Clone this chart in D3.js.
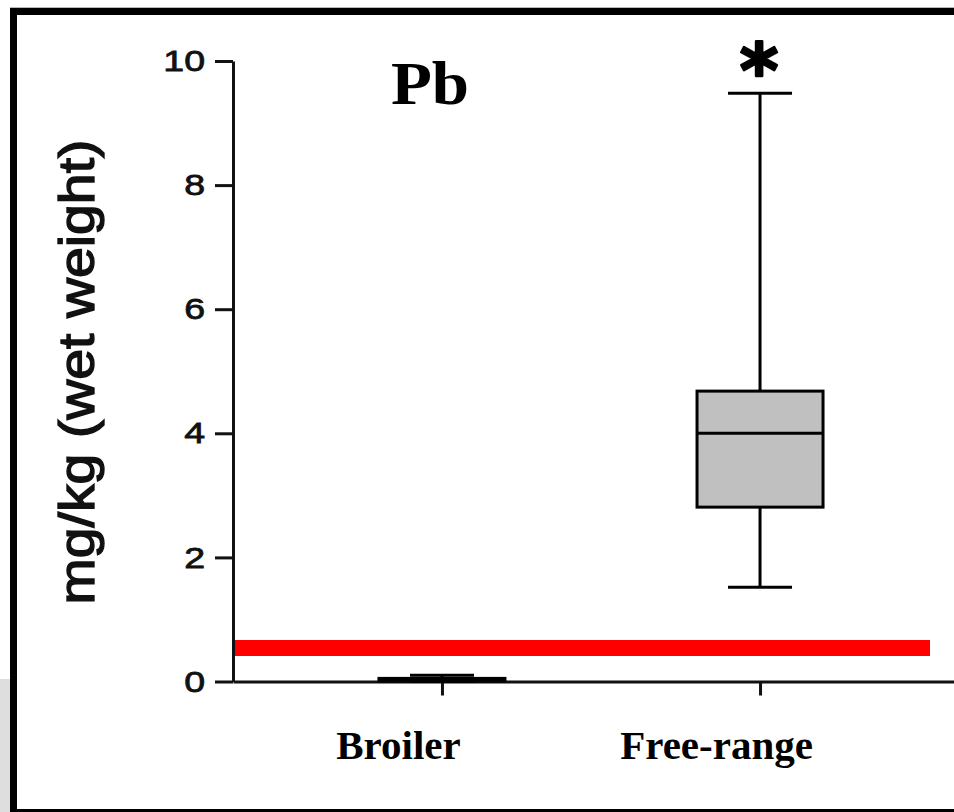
<!DOCTYPE html>
<html>
<head>
<meta charset="utf-8">
<script src="https://cdn.jsdelivr.net/npm/d3@7"></script>
<style>
  html, body { margin: 0; padding: 0; background: #fff; }
  svg { display: block; }
</style>
</head>
<body>
<div id="plot"></div>
<script>
// chart values
var groups = ["Broiler", "Free-range"];
var mins = [0.00, 1.52];
var q1s = [0.01, 2.81];
var medians = [0.03, 4.00];
var q3s = [0.05, 4.68];
var maxs = [0.10, 9.48];
var sigMarks = ["", "*"];
var yTicks = [0, 2, 4, 6, 8, 10];
var limitValue = 0.54;
var title = "Pb";
var yLabel = "mg/kg (wet weight)";

var W = 954, H = 812;

var svg = d3.select('#plot')
    .append('svg')
    .attr('width', W)
    .attr('height', H);

// frame around the picture
svg.append('rect').attr('x', 0).attr('y', 679).attr('width', 10).attr('height', H - 679).style('fill', '#dedede');
svg.append('line').attr('x1', 10).attr('x2', W).attr('y1', 7.5).attr('y2', 7.5).style('stroke', '#b8b8b8').style('stroke-width', 1);
svg.append('rect').attr('x', 10).attr('y', 8).attr('width', W - 10).attr('height', 7).style('fill', '#000');
svg.append('rect').attr('x', 10).attr('y', 8).attr('width', 7).attr('height', H - 8).style('fill', '#000');
svg.append('rect').attr('x', 10).attr('y', 809).attr('width', W - 10).attr('height', 3).style('fill', '#000');

// scales
var y = d3.scaleLinear().domain([0, 10]).range([681.5, 61]);
var x = d3.scalePoint().domain(groups).range([233, 969]).padding(0.657);

var boxW = 126, capW = 64;

// limit line
svg.append('line')
    .attr('x1', 235).attr('x2', 930)
    .attr('y1', y(limitValue)).attr('y2', y(limitValue))
    .style('stroke', '#ff0000')
    .style('stroke-width', 16);

// axes
var sx = 1.25;
var yAxis = d3.axisLeft(y).tickValues(yTicks).tickSize(18).tickSizeOuter(0).tickPadding(10);
var gy = svg.append('g').attr('transform', 'translate(233,0)').call(yAxis);
gy.selectAll('path, line').style('stroke', '#111').style('stroke-width', 3);
gy.selectAll('text')
    .style('font-family', '"Liberation Sans", Arial, sans-serif')
    .style('font-size', '30px')
    .style('fill', '#111')
    .style('stroke', '#111')
    .style('stroke-width', 0.8)
    .attr('x', -28 / sx)
    .attr('transform', 'scale(' + sx + ',1)');

var xAxis = d3.axisBottom(x).tickSize(14).tickSizeOuter(0).tickPadding(34);
var gx = svg.append('g').attr('transform', 'translate(0,681.5)').call(xAxis);
gx.selectAll('path, line').style('stroke', '#111').style('stroke-width', 3);
gx.selectAll('text')
    .attr('dx', -44)
    .style('font-family', '"Liberation Serif", "Times New Roman", serif')
    .style('font-weight', 'bold')
    .style('font-size', '41px')
    .style('fill', '#000');

// box plots
groups.forEach(function (g, i) {
    var cx = x(g);
    var box = svg.append('g');
    box.append('line')
        .attr('x1', cx).attr('x2', cx)
        .attr('y1', y(mins[i])).attr('y2', y(maxs[i]))
        .style('stroke', '#000').style('stroke-width', 3);
    [mins[i], maxs[i]].forEach(function (v) {
        box.append('line')
            .attr('x1', cx - capW / 2).attr('x2', cx + capW / 2)
            .attr('y1', y(v)).attr('y2', y(v))
            .style('stroke', '#000').style('stroke-width', 3);
    });
    box.append('rect')
        .attr('x', cx - boxW / 2)
        .attr('y', y(q3s[i]))
        .attr('width', boxW)
        .attr('height', y(q1s[i]) - y(q3s[i]))
        .style('fill', '#c0c0c0')
        .style('stroke', '#000').style('stroke-width', 3);
    box.append('line')
        .attr('x1', cx - boxW / 2).attr('x2', cx + boxW / 2)
        .attr('y1', y(medians[i])).attr('y2', y(medians[i]))
        .style('stroke', '#000').style('stroke-width', 3);
    if (sigMarks[i]) {
        svg.append('text')
            .attr('x', cx - 1)
            .attr('y', 97)
            .attr('text-anchor', 'middle')
            .style('font-family', '"DejaVu Sans", sans-serif')
            .style('font-weight', 'bold')
            .style('font-size', '74px')
            .style('stroke', '#000')
            .style('stroke-width', 2.5)
            .style('stroke-linejoin', 'round')
            .text(sigMarks[i]);
    }
});

// title
svg.append('text')
    .attr('x', 430).attr('y', 104)
    .attr('text-anchor', 'middle')
    .attr('transform', 'translate(430,104) scale(1.08,1) translate(-430,-104)')
    .style('font-family', '"Liberation Serif", "Times New Roman", serif')
    .style('font-weight', 'bold')
    .style('font-size', '62px')
    .text(title);

// y label
svg.append('text')
    .attr('transform', 'translate(94,372) rotate(-90)')
    .attr('text-anchor', 'middle')
    .attr('textLength', 465)
    .attr('lengthAdjust', 'spacingAndGlyphs')
    .style('font-family', '"Liberation Sans", Arial, sans-serif')
    .style('font-size', '50px')
    .style('fill', '#111')
    .style('stroke', '#111')
    .style('stroke-width', 1.4)
    .text(yLabel);
</script>
</body>
</html>
